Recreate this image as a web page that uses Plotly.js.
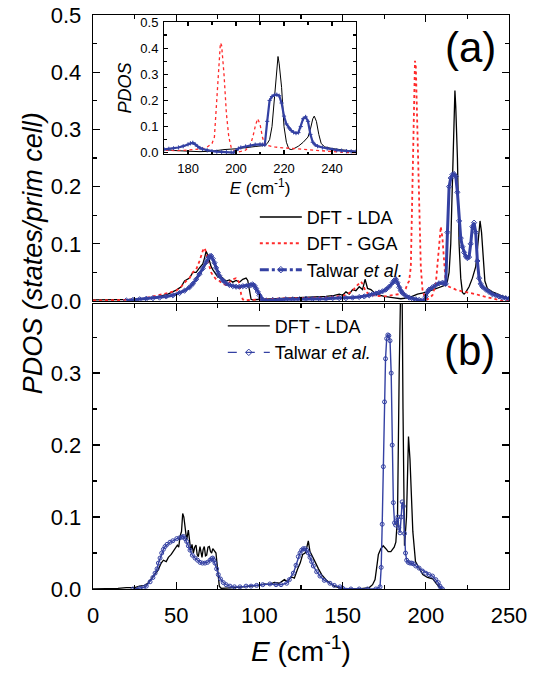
<!DOCTYPE html>
<html>
<head>
<meta charset="utf-8">
<script src="https://cdn.plot.ly/plotly-3.0.1.min.js"></script>
<style>html,body{margin:0;padding:0;background:#fff;}#chart{width:535px;height:676px;}</style>
</head>
<body>
<div id="chart"></div>
<script>
// ---------- Panel (a): A-site PDOS ----------
const E_LDA_a = [0,10,20,30,40,45,50,53,55,58,60,62,64,66,67,68,69,70,71,72,74,75,76,78,80,82,84,86,88,90,92,93,94,95,96,100,110,120,130,140,145,148,150,152,154,156,158,160,162,163.5,165,167,170,175,180,185,190,195,200,205,210,212,213,214,215,216,217,217.5,218,219,220,221,222,223,224,226,228,230,231,232,232.6,233.5,234.5,235.5,237,240,245,250];
const PDOS_LDA_a = [0.002,0.002,0.002,0.003,0.008,0.012,0.019,0.025,0.035,0.04,0.05,0.05,0.058,0.065,0.075,0.087,0.08,0.068,0.06,0.055,0.045,0.042,0.045,0.04,0.035,0.037,0.033,0.036,0.033,0.038,0.04,0.036,0.02,0.003,0.002,0.003,0.004,0.005,0.006,0.008,0.01,0.012,0.01,0.016,0.012,0.02,0.018,0.025,0.02,0.038,0.022,0.02,0.012,0.008,0.006,0.004,0.006,0.012,0.015,0.02,0.026,0.028,0.035,0.05,0.1,0.2,0.33,0.368,0.34,0.25,0.1,0.04,0.015,0.012,0.015,0.025,0.04,0.06,0.09,0.13,0.14,0.12,0.07,0.035,0.022,0.016,0.01,0.005];

const E_GGA_a = [0,10,20,30,40,45,50,53,56,58,60,62,64,65,66,67,68,69,70,71,72,74,76,78,80,82,84,86,87,88,89,90,91,95,100,110,120,130,140,145,150,153,156,158,160,161,162,163,164,166,170,175,180,184,186,188,189,190,191,192,193,193.5,194,195,196,197,198,199,200,201,202,204,206,207,208,209,210,211,212,214,216,218,222,226,230,235,240,245,250];
const PDOS_GGA_a = [0.001,0.001,0.002,0.004,0.01,0.014,0.018,0.025,0.035,0.04,0.05,0.055,0.07,0.08,0.088,0.093,0.085,0.07,0.06,0.05,0.045,0.038,0.035,0.03,0.028,0.033,0.038,0.04,0.038,0.03,0.012,0.003,0.001,0.002,0.003,0.004,0.005,0.005,0.006,0.008,0.009,0.012,0.018,0.025,0.032,0.034,0.03,0.022,0.016,0.012,0.009,0.008,0.01,0.012,0.015,0.022,0.03,0.035,0.06,0.2,0.38,0.42,0.41,0.3,0.15,0.06,0.02,0.01,0.005,0.003,0.005,0.01,0.03,0.06,0.1,0.13,0.11,0.06,0.03,0.025,0.022,0.02,0.017,0.015,0.012,0.008,0.004,0.001,0];

const E_TAL_a = [20,24,28,32,36,40,44,48,52,55,58,60,62,64,66,68,69,70,71,72,73,74,75,76,78,80,82,84,86,88,90,92,94,95,96,97,98,99,100,101,102,104,108,112,116,120,124,128,132,136,140,144,148,152,156,160,163,166,168,170,172,174,176,178,180,181,182,183,184,185,186,188,190,192,194,196,198,199,200,201,202,204,206,208,210,211,212,213,214,215,216,217,218,219,220,221,222,223,224,225,226,227,228,229,230,231,232,233,234,236,238,240,242,244,246,248,250];
const PDOS_TAL_a = [0.001,0.002,0.003,0.004,0.005,0.006,0.008,0.01,0.014,0.018,0.024,0.03,0.038,0.047,0.057,0.068,0.074,0.078,0.079,0.074,0.067,0.058,0.05,0.044,0.036,0.031,0.028,0.026,0.025,0.025,0.026,0.026,0.027,0.028,0.029,0.027,0.022,0.016,0.01,0.005,0.002,0.001,0.002,0.002,0.003,0.003,0.003,0.004,0.004,0.004,0.004,0.005,0.005,0.005,0.006,0.007,0.008,0.01,0.012,0.013,0.015,0.017,0.02,0.025,0.032,0.036,0.038,0.032,0.024,0.018,0.014,0.009,0.006,0.004,0.003,0.002,0.001,0,0.008,0.016,0.02,0.024,0.028,0.031,0.032,0.031,0.03,0.12,0.2,0.215,0.221,0.222,0.218,0.19,0.14,0.11,0.095,0.085,0.078,0.075,0.077,0.1,0.13,0.137,0.12,0.07,0.04,0.03,0.025,0.02,0.016,0.012,0.01,0.008,0.006,0.005,0.004];

// ---------- Panel (b) ----------
const E_LDA_b = [0,5,10,15,20,25,28,31,33,35,37,39,41,42.3,44,45.3,47,48.3,50,50.7,51.5,52.3,53.2,53.9,54.6,55.3,56.3,57.3,58,58.7,59.5,60.3,61.1,61.9,62.6,63.3,64.3,65.5,66.2,66.9,67.6,68.3,69.1,69.9,70.6,71.3,72,72.7,73.3,73.9,74.9,75.9,77,80,85,90,95,100,103,106,109,112,115,117,119,121,123,124.5,126,127.5,128.5,129.4,130.4,131.5,133.4,135.5,137.4,140,142.4,145,148.4,150,160,166,168,169.5,170.5,171.5,173,174.4,176,177.4,179,180,181,182,183,184,184.8,185.5,186.3,187.2,188.4,189.6,190.5,191.4,192.2,193.8,195.8,198.2,201,204.2,206.2,208,209.2,210];
const PDOS_LDA_b = [0,0,0.001,0.001,0.002,0.002,0.004,0.005,0.008,0.014,0.02,0.026,0.036,0.04,0.038,0.044,0.048,0.053,0.058,0.061,0.058,0.073,0.08,0.105,0.1,0.085,0.068,0.082,0.07,0.054,0.062,0.05,0.058,0.061,0.048,0.045,0.059,0.044,0.055,0.059,0.046,0.047,0.058,0.059,0.052,0.05,0.056,0.054,0.052,0.05,0.027,0.004,0.001,0.001,0.002,0.003,0.004,0.005,0.007,0.006,0.009,0.008,0.013,0.01,0.017,0.015,0.028,0.036,0.048,0.05,0.058,0.067,0.052,0.046,0.038,0.028,0.02,0.013,0.008,0.004,0.001,0,0,0.002,0.006,0.013,0.03,0.048,0.056,0.06,0.056,0.052,0.052,0.056,0.058,0.065,0.1,0.3,0.5,0.5,0.25,0.06,0.1,0.212,0.18,0.12,0.08,0.038,0.03,0.02,0.016,0.014,0.008,0.003,0,0];

const E_TAL_b = [24,28,30.3,32,34.3,36,37.3,38.5,39.3,40.3,41.3,42.3,43.3,44.5,46.3,48,50.3,52,53.5,54.3,55.3,56.3,57.3,58.3,59.7,61.3,62.8,64.3,65.8,67.3,68.8,70.3,71.3,71.9,72.6,73.3,74.3,75.3,76.6,78.3,80,82.3,85,88.3,92,95,98.3,102,106.3,110,113,116.4,118,120.4,122,123.4,124.4,125.4,126.4,127.4,128.4,129.4,130.4,131.4,132.4,134.4,136.4,139,142.4,145,148.4,150,155,160,165,170,172.5,173.2,173.8,174.5,175.2,175.8,176.5,177.2,177.8,178.5,179.2,179.8,180.5,181.2,181.8,182.5,183.2,183.8,184.5,185.2,185.8,186.5,187.2,187.8,188.5,189.5,190.5,191.5,192.5,194,196,198,200,202,204,206,207.5,208.5,209.2,210];
const PDOS_TAL_b = [0,0.001,0.002,0.004,0.01,0.016,0.022,0.028,0.036,0.043,0.05,0.055,0.059,0.062,0.065,0.067,0.07,0.071,0.072,0.073,0.07,0.066,0.06,0.054,0.047,0.043,0.04,0.037,0.036,0.036,0.037,0.04,0.042,0.043,0.04,0.036,0.028,0.02,0.014,0.009,0.006,0.004,0.003,0.003,0.004,0.004,0.005,0.006,0.007,0.006,0.006,0.008,0.013,0.022,0.033,0.045,0.05,0.054,0.056,0.056,0.054,0.05,0.044,0.038,0.032,0.024,0.018,0.012,0.008,0.005,0.003,0.001,0,0,0,0,0.003,0.03,0.09,0.17,0.26,0.32,0.348,0.353,0.352,0.345,0.3,0.2,0.12,0.092,0.089,0.095,0.1,0.085,0.078,0.1,0.121,0.115,0.077,0.05,0.04,0.037,0.036,0.036,0.035,0.032,0.029,0.025,0.022,0.02,0.018,0.013,0.009,0.004,0.001,0];

// ---------- Ticks & labels ----------
const xTicks = [0,50,100,150,200,250];
const yTicksA = [0,0.1,0.2,0.3,0.4,0.5];
const yTicksB = [0,0.1,0.2,0.3];
const xTicksInset = [180,200,220,240];
const yTicksInset = [0,0.1,0.2,0.3,0.4,0.5];
const seriesNames = ['DFT - LDA','DFT - GGA','Talwar <i>et al.</i>'];

const BLUE = '#3441a3', RED = '#ff2a2a', BLACK = '#000000';
const FONT = 'Arial, "Liberation Sans", sans-serif';

const traces = [
  // panel (a)
  {x:E_LDA_a, y:PDOS_LDA_a, xaxis:'x', yaxis:'y', mode:'lines', line:{color:BLACK,width:1.3}, showlegend:false},
  {x:E_GGA_a, y:PDOS_GGA_a, xaxis:'x', yaxis:'y', mode:'lines', line:{color:RED,width:1.8,dash:'dot'}, showlegend:false},
  {x:E_TAL_a, y:PDOS_TAL_a, xaxis:'x', yaxis:'y', mode:'lines+markers', line:{color:BLUE,width:3}, marker:{symbol:'diamond-open',size:4,color:BLUE,line:{width:1}}, showlegend:false},
  // inset
  {x:E_LDA_a, y:PDOS_LDA_a, xaxis:'x3', yaxis:'y3', mode:'lines', line:{color:BLACK,width:1}, showlegend:false},
  {x:E_GGA_a, y:PDOS_GGA_a, xaxis:'x3', yaxis:'y3', mode:'lines', line:{color:RED,width:1.3,dash:'dot'}, showlegend:false},
  {x:E_TAL_a, y:PDOS_TAL_a, xaxis:'x3', yaxis:'y3', mode:'lines+markers', line:{color:BLUE,width:2.2}, marker:{symbol:'cross-thin-open',size:3,color:BLUE,line:{width:1,color:BLUE}}, showlegend:false},
  // panel (b)
  {x:E_LDA_b, y:PDOS_LDA_b, xaxis:'x2', yaxis:'y2', mode:'lines', line:{color:BLACK,width:1.3}, showlegend:false},
  {x:E_TAL_b, y:PDOS_TAL_b, xaxis:'x2', yaxis:'y2', mode:'lines+markers', line:{color:BLUE,width:1.4}, marker:{symbol:'circle-open',size:4,color:BLUE,line:{width:1}}, showlegend:false},
  // legend entries
  {x:[null], y:[null], xaxis:'x', yaxis:'y', mode:'lines', name:seriesNames[0], legend:'legend', line:{color:BLACK,width:1.5}},
  {x:[null], y:[null], xaxis:'x', yaxis:'y', mode:'lines', name:seriesNames[1], legend:'legend', line:{color:RED,width:2,dash:'dot'}},
  {x:[null], y:[null], xaxis:'x', yaxis:'y', mode:'lines+markers', name:seriesNames[2], legend:'legend', line:{color:BLUE,width:3,dash:'dashdot'}, marker:{symbol:'diamond-open',size:5,color:BLUE}},
  {x:[null], y:[null], xaxis:'x2', yaxis:'y2', mode:'lines', name:seriesNames[0], legend:'legend2', line:{color:BLACK,width:1.3}},
  {x:[null], y:[null], xaxis:'x2', yaxis:'y2', mode:'lines+markers', name:seriesNames[2], legend:'legend2', line:{color:BLUE,width:1.4,dash:'dash'}, marker:{symbol:'diamond-open',size:5,color:BLUE}}
];

const ax = (o) => Object.assign({
  showgrid:false, zeroline:false, showline:true, linecolor:'#000', linewidth:1.3,
  ticks:'inside', ticklen:7, tickwidth:1.2, tickcolor:'#000', mirror:'ticks',
  tickfont:{family:FONT,size:22,color:'#000'}
}, o);

const layout = {
  width:535, height:676,
  margin:{l:93, r:26, t:15, b:87},
  paper_bgcolor:'#fff', plot_bgcolor:'rgba(0,0,0,0)',
  font:{family:FONT, color:'#000'},
  xaxis: ax({anchor:'y', domain:[0,1], range:[0,250], tickvals:xTicks, showticklabels:false,
             minor:{ticks:'inside', ticklen:4, tickcolor:'#000', dtick:25, tick0:0}}),
  yaxis: ax({anchor:'x', domain:[0.5017,1], range:[0,0.5], tickvals:yTicksA, tickformat:'.1f', ticklabelstandoff:6,
             minor:{ticks:'inside', ticklen:4, tickcolor:'#000', dtick:0.05, tick0:0}}),
  xaxis2: ax({anchor:'y2', domain:[0,1], range:[0,250], tickvals:xTicks, ticklabelstandoff:6,
             minor:{ticks:'inside', ticklen:4, tickcolor:'#000', dtick:25, tick0:0},
             title:{text:'<i>E</i> (cm<sup>-1</sup>)', font:{family:FONT,size:28,color:'#000'}, standoff:14}}),
  yaxis2: ax({anchor:'x2', domain:[0,0.4965], range:[0,0.396], tickvals:yTicksB, tickformat:'.1f', ticklabelstandoff:6,
             minor:{ticks:'inside', ticklen:4, tickcolor:'#000', dtick:0.05, tick0:0}}),
  xaxis3: ax({anchor:'y3', domain:[0.1707,0.6322], range:[170,250], tickvals:xTicksInset, ticklen:4, linewidth:1,
             tickfont:{family:FONT,size:13,color:'#000'}, ticklabelstandoff:2,
             minor:{ticks:'inside', ticklen:2.5, tickcolor:'#000', dtick:10, tick0:0},
             title:{text:'<i>E</i> (cm<sup>-1</sup>)', font:{family:FONT,size:17,color:'#000'}, standoff:6}}),
  yaxis3: ax({anchor:'x3', domain:[0.7578,0.9878], range:[-0.005,0.5], tickvals:yTicksInset, tickformat:'.1f', ticklen:4, linewidth:1,
             tickfont:{family:FONT,size:13,color:'#000'}, ticklabelstandoff:2,
             minor:{ticks:'inside', ticklen:2.5, tickcolor:'#000', dtick:0.05, tick0:0},
             title:{text:'<i>PDOS</i>', font:{family:FONT,size:18,color:'#000'}, standoff:4}}),
  legend: {x:0.389, y:0.68, xanchor:'left', yanchor:'top', bgcolor:'rgba(0,0,0,0)', borderwidth:0,
           font:{family:FONT,size:18,color:'#000'}, itemwidth:42, tracegroupgap:0},
  legend2: {x:0.312, y:0.49, xanchor:'left', yanchor:'top', bgcolor:'rgba(0,0,0,0)', borderwidth:0,
           font:{family:FONT,size:18,color:'#000'}, itemwidth:42, tracegroupgap:0},
  annotations: [
    {xref:'paper', yref:'paper', x:-0.144, y:0.585, text:'<i>PDOS (states/prim cell)</i>', textangle:-90,
     showarrow:false, font:{family:FONT,size:27,color:'#000'}, xanchor:'center', yanchor:'middle'},
    {xref:'paper', yref:'paper', x:0.908, y:0.944, text:'(a)', showarrow:false,
     font:{family:FONT,size:42,color:'#000'}, xanchor:'center', yanchor:'middle'},
    {xref:'paper', yref:'paper', x:0.906, y:0.416, text:'(b)', showarrow:false,
     font:{family:FONT,size:42,color:'#000'}, xanchor:'center', yanchor:'middle'}
  ]
};

Plotly.newPlot('chart', traces, layout, {staticPlot:true, displayModeBar:false});
</script>
</body>
</html>
